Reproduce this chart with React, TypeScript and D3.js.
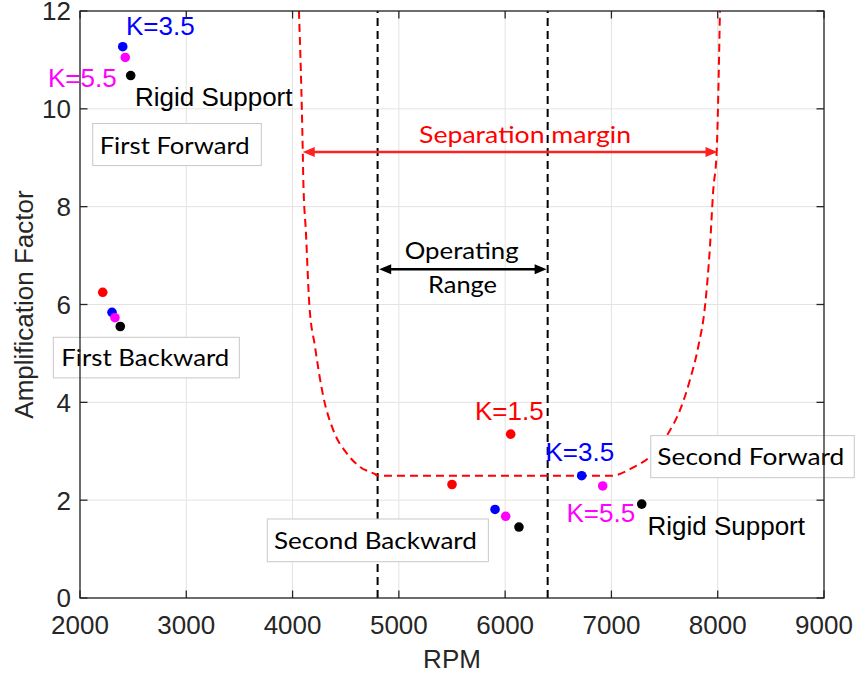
import React from "react";
import * as d3 from "d3";

// ---- data ----
const xTicks = [2000, 3000, 4000, 5000, 6000, 7000, 8000, 9000];
const yTicks = [0, 2, 4, 6, 8, 10, 12];

// [rpm, amplification factor]
const k15: [number, number][] = [[2214, 6.25], [5500, 2.32], [6052, 3.35]];
const k35: [number, number][] = [[2402, 11.27], [2301, 5.84], [5905, 1.81], [6720, 2.5]];
const k55: [number, number][] = [[2426, 11.05], [2329, 5.73], [6005, 1.67], [6918, 2.29]];
const rigid: [number, number][] = [[2477, 10.68], [2379, 5.55], [6130, 1.45], [7285, 1.92]];

// separation-margin envelope
const marginCurve: [number, number][] = [
  [4060, 12], [4096, 9.12], [4101, 8.55], [4126, 7.46], [4157, 6.02], [4211, 5.14],
  [4289, 4.12], [4383, 3.43], [4509, 2.96], [4634, 2.68], [4776, 2.53], [4800, 2.5],
  [7000, 2.5], [7206, 2.67], [7363, 2.89], [7535, 3.37], [7645, 3.84], [7739, 4.46],
  [7817, 5.14], [7880, 5.96], [7927, 7.18], [7958, 8.34], [7990, 9.12], [8021, 12],
];

const operatingRange = [4800, 6400];

const series = [
  { name: "K=1.5", color: "#ff0000", pts: k15 },
  { name: "K=3.5", color: "#0000ff", pts: k35 },
  { name: "K=5.5", color: "#ff00ff", pts: k55 },
  { name: "Rigid Support", color: "#000000", pts: rigid },
];

// plain labels (Arial-like)
const labels = [
  { text: "K=3.5", x: 2433, y: 11.51, color: "#0000ff" },
  { text: "K=5.5", x: 1699, y: 10.44, color: "#ff00ff" },
  { text: "Rigid Support", x: 2517, y: 10.06, color: "#000000" },
  { text: "K=1.5", x: 5716, y: 3.64, color: "#ff0000" },
  { text: "K=3.5", x: 6380, y: 2.8, color: "#0000ff" },
  { text: "K=5.5", x: 6577, y: 1.56, color: "#ff00ff" },
  { text: "Rigid Support", x: 7339, y: 1.29, color: "#000000" },
];

// boxed labels: box corners and text baseline (data units)
const boxes = [
  { text: "First Forward", x0: 2119.5, x1: 3705.8, y0: 9.7, y1: 8.84, tx: 2185, ty: 9.08, w: 150 },
  { text: "First Backward", x0: 1749, x1: 3499, y0: 5.33, y1: 4.5, tx: 1824, ty: 4.74, w: 168 },
  { text: "Second Backward", x0: 3762, x1: 5842, y0: 1.615, y1: 0.742, tx: 3825, ty: 1.0, w: 203 },
  { text: "Second Forward", x0: 7370, x1: 9285, y0: 3.32, y1: 2.46, tx: 7432, ty: 2.72, w: 187 },
];

const W = 856;
const H = 674;
const M = { left: 80, right: 824, top: 11, bottom: 598 };

export default function App() {
  const x = d3.scaleLinear().domain([2000, 9000]).range([M.left, M.right]);
  const y = d3.scaleLinear().domain([0, 12]).range([M.bottom, M.top]);
  const axisColor = "#262626";
  const arial = "'Liberation Sans', Arial, sans-serif";
  const calibri = "Lato, 'Open Sans', sans-serif";

  const curve = d3
    .line<[number, number]>()
    .x((d) => x(d[0]))
    .y((d) => y(d[1]))
    .curve(d3.curveMonotoneX)(marginCurve) as string;

  const sepY = 9.12;
  const sepX0 = 4096;
  const sepX1 = 7998;
  const opY = 6.72;
  const opX0 = 4815;
  const opX1 = 6390;

  const head = (tipX: number, tipY: number, dir: number, color: string) => {
    const L = 12;
    const hw = 5;
    return (
      <polygon
        points={`${tipX},${tipY} ${tipX - dir * L},${tipY - hw} ${tipX - dir * L},${tipY + hw}`}
        fill={color}
      />
    );
  };

  return (
    <svg
      width={W}
      height={H}
      style={{ position: "absolute", left: 0, top: 0, background: "#fff" }}
    >
      <rect x={0} y={0} width={W} height={H} fill="#fff" />
      {/* grid */}
      {xTicks.map((t) => (
        <line key={"gx" + t} x1={x(t)} x2={x(t)} y1={M.top} y2={M.bottom} stroke="#e3e3e3" strokeWidth={1} />
      ))}
      {yTicks.map((t) => (
        <line key={"gy" + t} x1={M.left} x2={M.right} y1={y(t)} y2={y(t)} stroke="#e3e3e3" strokeWidth={1} />
      ))}

      {/* operating range lines */}
      {operatingRange.map((v) => (
        <line
          key={"op" + v}
          x1={x(v)}
          x2={x(v)}
          y1={y(0)}
          y2={y(12)}
          stroke="#000"
          strokeWidth={2}
          strokeDasharray="8,5"
        />
      ))}

      {/* separation margin curve */}
      <path d={curve} fill="none" stroke="#ff0000" strokeWidth={2} strokeDasharray="8,5" />

      {/* boxes */}
      {boxes.map((b) => (
        <g key={b.text}>
          <rect
            x={x(b.x0)}
            y={y(b.y0)}
            width={x(b.x1) - x(b.x0)}
            height={y(b.y1) - y(b.y0)}
            fill="#fff"
            stroke="#c8c8c8"
            strokeWidth={1}
          />
          <text
            x={x(b.tx)}
            y={y(b.ty)}
            fontFamily={calibri}
            fontSize={24}
            fill="#000"
            textLength={b.w}
            lengthAdjust="spacingAndGlyphs"
          >
            {b.text}
          </text>
        </g>
      ))}

      {/* arrows */}
      <line x1={x(sepX0) + 8} x2={x(sepX1) - 8} y1={y(sepY)} y2={y(sepY)} stroke="#ff2020" strokeWidth={2.5} />
      {head(x(sepX0), y(sepY), -1, "#ff2020")}
      {head(x(sepX1), y(sepY), 1, "#ff2020")}
      <line x1={x(opX0) + 8} x2={x(opX1) - 8} y1={y(opY)} y2={y(opY)} stroke="#000" strokeWidth={2.5} />
      {head(x(opX0), y(opY), -1, "#000")}
      {head(x(opX1), y(opY), 1, "#000")}

      <text x={x(6187)} y={y(9.3)} textAnchor="middle" fontFamily={calibri} fontSize={24} fill="#ff0000" textLength={212} lengthAdjust="spacingAndGlyphs">
        Separation margin
      </text>
      <text x={x(5591)} y={y(6.94)} textAnchor="middle" fontFamily={calibri} fontSize={24} fill="#000" textLength={114} lengthAdjust="spacingAndGlyphs">
        Operating
      </text>
      <text x={x(5599)} y={y(6.24)} textAnchor="middle" fontFamily={calibri} fontSize={24} fill="#000" textLength={69} lengthAdjust="spacingAndGlyphs">
        Range
      </text>

      {/* points */}
      {series.map((s) =>
        s.pts.map((p, i) => (
          <circle key={s.name + i} cx={x(p[0])} cy={y(p[1])} r={4.8} fill={s.color} />
        ))
      )}

      {/* labels */}
      {labels.map((l, i) => (
        <text key={"lab" + i} x={x(l.x)} y={y(l.y)} fontFamily={arial} fontSize={26} fill={l.color}>
          {l.text}
        </text>
      ))}

      {/* axes box */}
      <rect
        x={M.left}
        y={M.top}
        width={M.right - M.left}
        height={M.bottom - M.top}
        fill="none"
        stroke={axisColor}
        strokeWidth={1.3}
      />
      {xTicks.map((t) => (
        <g key={"tx" + t}>
          <line x1={x(t)} x2={x(t)} y1={M.bottom} y2={M.bottom - 7.5} stroke={axisColor} strokeWidth={1.3} />
          <line x1={x(t)} x2={x(t)} y1={M.top} y2={M.top + 7.5} stroke={axisColor} strokeWidth={1.3} />
          <text x={x(t)} y={634} textAnchor="middle" fontFamily={arial} fontSize={26} fill={axisColor}>
            {t}
          </text>
        </g>
      ))}
      {yTicks.map((t) => (
        <g key={"ty" + t}>
          <line x1={M.left} x2={M.left + 7.5} y1={y(t)} y2={y(t)} stroke={axisColor} strokeWidth={1.3} />
          <line x1={M.right} x2={M.right - 7.5} y1={y(t)} y2={y(t)} stroke={axisColor} strokeWidth={1.3} />
          <text x={71} y={y(t)} dy="0.36em" textAnchor="end" fontFamily={arial} fontSize={26} fill={axisColor}>
            {t}
          </text>
        </g>
      ))}
      <text x={(M.left + M.right) / 2} y={668} textAnchor="middle" fontFamily={arial} fontSize={26} fill={axisColor}>
        RPM
      </text>
      <text
        transform={`translate(33, ${(M.top + M.bottom) / 2}) rotate(-90)`}
        textAnchor="middle"
        fontFamily={arial}
        fontSize={26}
        fill={axisColor}
      >
        Amplification Factor
      </text>
    </svg>
  );
}
